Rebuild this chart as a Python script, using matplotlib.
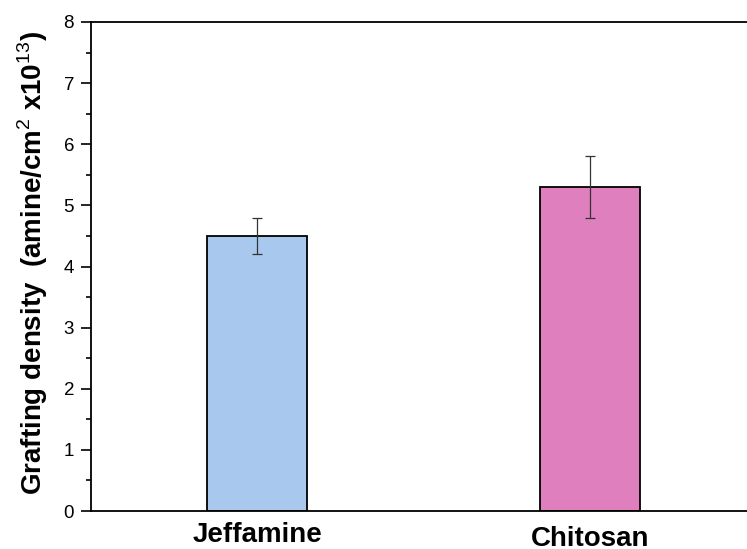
import matplotlib
matplotlib.use("Agg")
import matplotlib.pyplot as plt
from matplotlib.ticker import MultipleLocator

# data
categories = ["Jeffamine", "Chitosan"]
density = [4.5, 5.3]
errors = [0.3, 0.5]
bar_colors = ["#A8C8EE", "#DF7FBE"]
label_drop = [22.3, 25.0]   # points below the axis (labels sit at uneven heights)

plt.rcParams['font.family'] = ['Liberation Sans', 'DejaVu Sans']
plt.rcParams['mathtext.fontset'] = 'custom'
plt.rcParams['mathtext.rm'] = 'Liberation Sans'
plt.rcParams['mathtext.bf'] = 'Liberation Sans:bold'

fig = plt.figure(figsize=(7.47, 5.49), dpi=100)
# right edge lies outside the picture, as in the cropped reference
ax = fig.add_axes([91 / 747, 38 / 549, 665 / 747, 489 / 549])

x = list(range(len(categories)))
ax.bar(x, density, width=0.3, color=bar_colors, edgecolor="black", linewidth=1.3, zorder=2)
ax.errorbar(x, density, yerr=errors, fmt="none", ecolor="#333333",
            elinewidth=0.9, capsize=3.6, capthick=0.9, zorder=3)

ax.set_xlim(-0.5, 1.5)
ax.set_ylim(0, 8)
ax.yaxis.set_major_locator(MultipleLocator(1))
ax.yaxis.set_minor_locator(MultipleLocator(0.5))
ax.tick_params(axis="y", which="major", length=7.2, width=1.2, labelsize=13.5, pad=5)
ax.tick_params(axis="y", which="minor", length=3.6, width=1.2)
ax.set_xticks([])
for s in ax.spines.values():
    s.set_linewidth(1.3)

for xi, name, drop in zip(x, categories, label_drop):
    ax.annotate(name, xy=(xi, 0), xycoords=("data", "axes fraction"),
                xytext=(0, -drop), textcoords="offset points",
                ha="center", va="baseline", fontsize=20, fontweight="bold")

ax.set_ylabel(r"Grafting density  (amine/cm$^{\mathrm{2}}$ x10$^{\mathrm{13}}$)",
              fontsize=20, fontweight="bold")
ax.yaxis.label.set_va("center")
ax.yaxis.set_label_coords(-0.087, 0.507)

fig.savefig("out.png", dpi=100)
